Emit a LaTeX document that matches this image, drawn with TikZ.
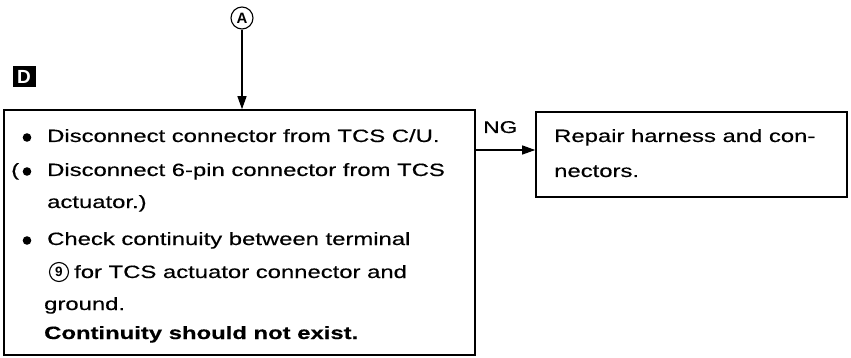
\documentclass[tikz,border=0pt]{standalone}
\usepackage{fontspec}
\setmainfont{Liberation Sans}
\newfontfamily\widefont[FakeStretch=1.34,FakeBold=0.4]{Liberation Sans}
\usetikzlibrary{arrows.meta}
\begin{document}
\begin{tikzpicture}[x=1pt,y=-1pt,
  txt/.style={anchor=base west, inner sep=0pt, font=\widefont\fontsize{17.8}{20}\selectfont},
  boldtxt/.style={anchor=base west, inner sep=0pt, font=\widefont\bfseries\fontsize{17.8}{20}\selectfont},
  box/.style={draw, line width=1.6pt, rectangle, inner sep=0pt},
  bulletdot/.style={circle, fill=black, inner sep=0pt, minimum size=8.6pt},
  circled/.style={circle, draw, line width=1.1pt, inner sep=0pt, font=\bfseries},
  arr/.style={line width=1.2pt, -{Triangle[length=13pt,width=9pt]}}
]
\useasboundingbox (0,0) rectangle (851,358);
% boxes
\node[box, minimum width=471pt, minimum height=245pt] (main) at (239.5,232.5) {};
\node[box, minimum width=311pt, minimum height=85pt] (rep) at (691.5,154.5) {};
% label D
\node[fill=black, text=white, inner sep=0pt, minimum width=23pt, minimum height=21pt,
      font=\bfseries\fontsize{19}{19}\selectfont] (lblD) at (24,77) {D};
% circled A
\node[circled, minimum size=22pt, font=\bfseries\fontsize{15}{15}\selectfont] (cA) at (242,18) {A};
\draw[arr] (cA.south) -- (main.north -| cA);
% NG arrow
\coordinate (ngy) at (0,150);
\draw[arr] (main.east |- ngy) -- (rep.west |- ngy);
\node[anchor=base west, inner sep=0pt, font=\widefont\fontsize{17}{19}\selectfont] (ng) at (483,133) {NG};
% main box text
\node[bulletdot] (b1) at (27,137.5) {};
\node[txt] (l1) at (47,142) {Disconnect connector from TCS C/U.};
\node[txt] (lp) at (11,176) {(};
\node[bulletdot] (b2) at (27,171.5) {};
\node[txt] (l2) at (47,176) {Disconnect 6-pin connector from TCS};
\node[txt] (l3) at (47,208) {actuator.)};
\node[bulletdot] (b3) at (27,240.5) {};
\node[txt] (l4) at (47,245) {Check continuity between terminal};
\node[circled, minimum size=19pt, font=\bfseries\fontsize{13.5}{13.5}\selectfont] (c9) at (59,272) {9};
\node[txt] (l5) at (74,278) {for TCS actuator connector and};
\node[txt] (l6) at (44,310) {ground.};
\node[boldtxt] (l7) at (44,339) {Continuity should not exist.};
% right box text
\node[txt] (r1) at (554,142) {Repair harness and con-};
\node[txt] (r2) at (554,177) {nectors.};
\end{tikzpicture}
\end{document}
